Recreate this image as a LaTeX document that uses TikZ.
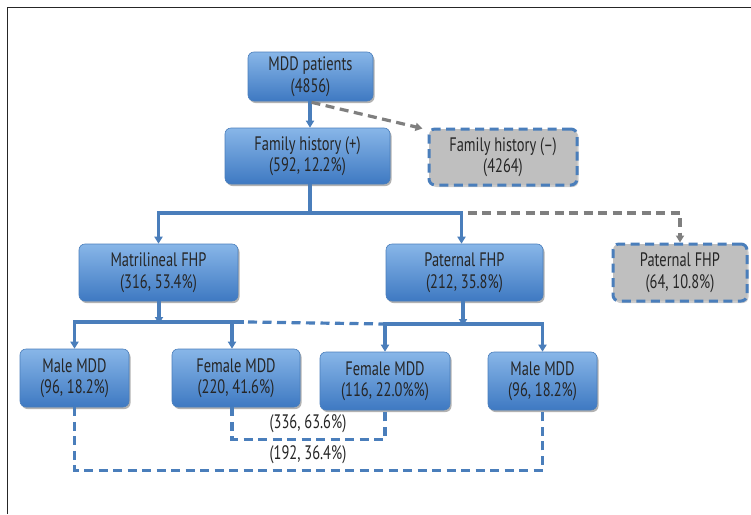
\documentclass[tikz,border=0pt]{standalone}
\usepackage{fontspec}
\setmainfont[FakeStretch=0.74]{PT Sans}
\usetikzlibrary{arrows.meta,shadows}
\definecolor{bl}{HTML}{4A7EBB}
\definecolor{bltop}{HTML}{88B6E8}
\definecolor{blbot}{HTML}{3E79C2}
\definecolor{gline}{HTML}{7F7F7F}
\definecolor{gfill}{HTML}{BFBFBF}
\definecolor{txt}{HTML}{262626}
\tikzset{
  box/.style={rectangle, rounded corners=6pt, align=center, text=txt,
    font=\fontsize{19.5}{21.5}\selectfont, inner sep=0pt},
  bluebox/.style={box, top color=bltop, bottom color=blbot, draw=bl, line width=0.6pt,
    drop shadow={shadow xshift=1.5pt, shadow yshift=-2pt, opacity=0.3, fill=black}},
  graybox/.style={box, fill=gfill, draw=bl, line width=3pt, dash pattern=on 9pt off 5.5pt,
    drop shadow={shadow xshift=1.5pt, shadow yshift=-2pt, opacity=0.2, fill=black}},
  conn/.style={draw=bl, line width=3.2pt},
  arr/.style={conn, -{Triangle[width=8pt,length=7pt]}},
  dconn/.style={conn, dash pattern=on 9pt off 5.5pt},
  garr/.style={draw=gline, line width=3.2pt, dash pattern=on 9pt off 5.5pt, -{Triangle[width=8pt,length=7pt]}},
  lbl/.style={text=txt, font=\fontsize{19.5}{21.5}\selectfont, inner sep=0pt}
}
\begin{document}
\begin{tikzpicture}[x=1pt,y=-1pt]
\useasboundingbox (0,0) rectangle (751,514);
\fill[white] (0,0) rectangle (751,514);
\draw[line width=1pt, black!85] (7,514) -- (7,7) -- (751,7);

\node[bluebox, minimum width=125pt, minimum height=49pt] (mdd) at (310.5,76.5) {MDD patients\\(4856)};
\node[bluebox, minimum width=165pt, minimum height=56pt] (fhp) at (307.5,156) {Family history (+)\\(592, 12.2\%)};
\node[graybox, minimum width=148pt, minimum height=56pt] (fhn) at (503,157) {Family history (--)\\(4264)};
\node[bluebox, minimum width=159pt, minimum height=57pt] (mat) at (158.5,272.5) {Matrilineal FHP\\(316, 53.4\%)};
\node[bluebox, minimum width=157pt, minimum height=57pt] (pat) at (464.5,272.5) {Paternal FHP\\(212, 35.8\%)};
\node[graybox, minimum width=134pt, minimum height=57pt] (pat2) at (680,272.5) {Paternal FHP\\(64, 10.8\%)};
\node[bluebox, minimum width=109pt, minimum height=58pt] (m1) at (74.5,378) {Male MDD\\(96, 18.2\%)};
\node[bluebox, minimum width=128pt, minimum height=58pt] (f1) at (236,378) {Female MDD\\(220, 41.6\%)};
\node[bluebox, minimum width=130pt, minimum height=58pt] (f2) at (385,381) {Female MDD\\(116, 22.0\%\%)};
\node[bluebox, minimum width=109pt, minimum height=58pt] (m2) at (542.5,381) {Male MDD\\(96, 18.2\%)};

\coordinate (b1) at (310,213);
\coordinate (b2) at (159,322);
\coordinate (b3) at (463,324);

% top
\draw[arr] (mdd.south -| b1) -- (fhp.north -| b1);
\draw[garr] ([xshift=1pt,yshift=-1pt]mdd.south) -- ([xshift=-5pt,yshift=-1pt]fhn.north west);

% level 2
\draw[conn] (fhp.south -| b1) -- (b1);
\draw[garr] ([xshift=3pt]b1 -| pat.north) -| (pat2.north);
\draw[arr] (b1) -| (mat.north);
\draw[arr] (b1) -| ([xshift=-3pt]pat.north);

% level 3
\draw[dconn] ([xshift=12pt]f1.north |- b2) -- (f2.north |- b3);
\draw[conn] (b2) -- ([xshift=8pt]f1.north |- b2);
\draw[arr] (mat.south -| b2) -- ([yshift=-2pt]b2);
\draw[arr] (b2) -| (m1.north);
\draw[arr] (b2) -| ([xshift=-4pt]f1.north);
\draw[arr] (pat.south -| b3) -- ([yshift=-2pt]b3);
\draw[arr] (b3) -| (f2.north);
\draw[arr] (b3) -| (m2.north);

% brackets
\draw[dconn] ([xshift=-4pt]f1.south) -- ++(0,32) coordinate (c1) -- (c1 -| f2.south) -- (f2.south);
\draw[dconn] (m1.south) -- ++(0,63) coordinate (c2) -- (c2 -| m2.south) -- (m2.south);
\node[lbl] (l1) at (308,424) {(336, 63.6\%)};
\node[lbl] (l2) at (308,455) {(192, 36.4\%)};
\end{tikzpicture}
\end{document}
